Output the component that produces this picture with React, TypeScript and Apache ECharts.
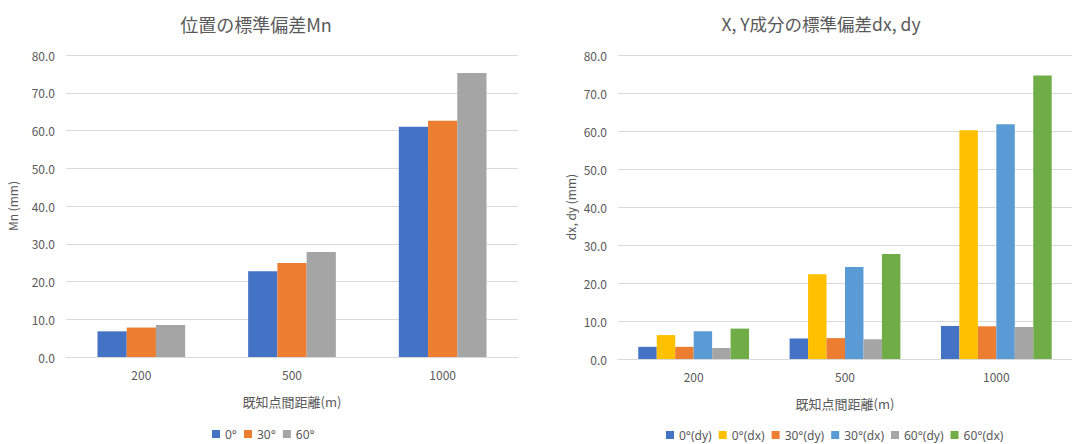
import React, { useEffect, useRef } from "react";
import * as echarts from "echarts";

// Known-point distances (m)
const distances = ["200", "500", "1000"];

// Position standard deviation Mn (mm) per angle
const mn0 = [6.8, 22.7, 61.0];
const mn30 = [7.8, 24.9, 62.6];
const mn60 = [8.5, 27.8, 75.2];

// X / Y component standard deviations (mm) per angle
const dy0 = [3.2, 5.4, 8.7];
const dx0 = [6.3, 22.3, 60.2];
const dy30 = [3.2, 5.5, 8.6];
const dx30 = [7.3, 24.2, 61.8];
const dy60 = [2.9, 5.2, 8.4];
const dx60 = [8.0, 27.6, 74.6];

const yTicks = { min: 0, max: 80, interval: 10 };

const FONT = "'Noto Sans CJK JP', 'Noto Sans', sans-serif";
const LEGEND_FONT = "'Noto Sans', 'Noto Sans CJK JP', sans-serif";
const TEXT = "#595959";
const GRID = "#D9D9D9";

const C_BLUE = "#4472C4";
const C_ORANGE = "#ED7D31";
const C_GRAY = "#A5A5A5";
const C_YELLOW = "#FFC000";
const C_LBLUE = "#5B9BD5";
const C_GREEN = "#70AD47";

function xAxis(gridIndex: number) {
  return {
    type: "category",
    gridIndex,
    data: distances,
    name: "既知点間距離(m)",
    nameLocation: "middle",
    nameGap: 38,
    nameTextStyle: { color: TEXT, fontSize: 13, fontFamily: FONT },
    axisLine: { lineStyle: { color: GRID, width: 1 } },
    axisTick: { show: false },
    axisLabel: { color: TEXT, fontSize: 12, fontFamily: FONT, margin: 11 },
  };
}

function yAxis(gridIndex: number, name: string, nameGap: number) {
  return {
    type: "value",
    gridIndex,
    min: yTicks.min,
    max: yTicks.max,
    interval: yTicks.interval,
    name,
    nameLocation: "middle",
    nameGap,
    nameTextStyle: { color: TEXT, fontSize: 12, fontFamily: FONT },
    axisLine: { show: false },
    axisTick: { show: false },
    splitLine: { lineStyle: { color: GRID, width: 1 } },
    axisLabel: {
      color: TEXT,
      fontSize: 12,
      fontFamily: FONT,
      margin: 11,
      formatter: (v: number) => v.toFixed(1),
    },
  };
}

function bar(name: string, data: number[], color: string, idx: number, width: string, catGap: string) {
  return {
    type: "bar",
    name,
    data,
    xAxisIndex: idx,
    yAxisIndex: idx,
    barWidth: width,
    barGap: "0%",
    barCategoryGap: catGap,
    itemStyle: { color },
  };
}

export default function App() {
  const ref = useRef<HTMLDivElement>(null);

  useEffect(() => {
    document.body.style.margin = "0";
    if (!ref.current) return;
    const chart = echarts.init(ref.current, undefined, { renderer: "svg" });
    const legendText = { color: TEXT, fontSize: 12, fontFamily: LEGEND_FONT };
    chart.setOption({
      animation: false,
      backgroundColor: "#ffffff",
      title: [
        {
          text: "位置の標準偏差Mn",
          left: 251,
          top: 10,
          textAlign: "center",
          textStyle: { color: TEXT, fontSize: 18, fontWeight: "normal", fontFamily: FONT },
        },
        {
          text: "X, Y成分の標準偏差dx, dy",
          left: 816,
          top: 10,
          textAlign: "center",
          textStyle: { color: TEXT, fontSize: 17.5, fontWeight: "normal", fontFamily: FONT },
        },
      ],
      legend: [
        {
          data: ["0°", "30°", "60°"],
          left: 212,
          top: 428,
          padding: 0,
          icon: "rect",
          itemWidth: 8,
          itemHeight: 8,
          itemGap: 7,
          textStyle: legendText,
        },
        {
          data: ["0°(dy)", "0°(dx)", "30°(dy)", "30°(dx)", "60°(dy)", "60°(dx)"],
          left: 666,
          top: 429,
          padding: 0,
          icon: "rect",
          itemWidth: 8,
          itemHeight: 8,
          itemGap: 7,
          textStyle: legendText,
        },
      ],
      grid: [
        { left: 66, top: 55, width: 452, height: 302 },
        { left: 618, top: 55, width: 459, height: 304 },
      ],
      xAxis: [xAxis(0), xAxis(1)],
      yAxis: [yAxis(0, "Mn (mm)", 48), yAxis(1, "dx, dy (mm)", 42)],
      series: [
        bar("0°", mn0, C_BLUE, 0, "19.4%", "41.6%"),
        bar("30°", mn30, C_ORANGE, 0, "19.4%", "41.6%"),
        bar("60°", mn60, C_GRAY, 0, "19.4%", "41.6%"),
        bar("0°(dy)", dy0, C_BLUE, 1, "12.2%", "26.8%"),
        bar("0°(dx)", dx0, C_YELLOW, 1, "12.2%", "26.8%"),
        bar("30°(dy)", dy30, C_ORANGE, 1, "12.2%", "26.8%"),
        bar("30°(dx)", dx30, C_LBLUE, 1, "12.2%", "26.8%"),
        bar("60°(dy)", dy60, C_GRAY, 1, "12.2%", "26.8%"),
        bar("60°(dx)", dx60, C_GREEN, 1, "12.2%", "26.8%"),
      ],
    });
    return () => chart.dispose();
  }, []);

  return (
    <div
      ref={ref}
      style={{ position: "absolute", left: 0, top: 0, width: 1072, height: 444 }}
    />
  );
}
